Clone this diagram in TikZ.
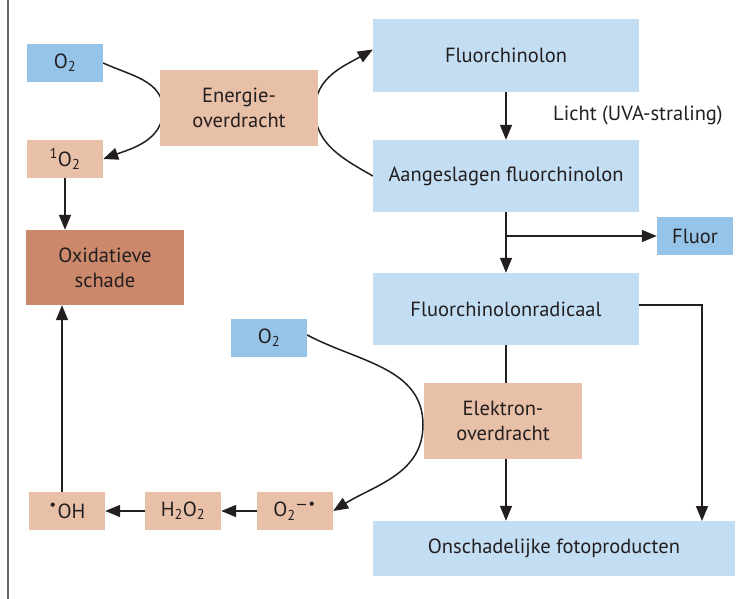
\documentclass[tikz,border=0pt]{standalone}
\usepackage{fontspec}
\setmainfont{PT Sans}
\newfontfamily\symfont{DejaVu Sans}
\usetikzlibrary{arrows.meta,backgrounds,calc}
\definecolor{lblue}{HTML}{C3DDF2}
\definecolor{mblue}{HTML}{96C4E9}
\definecolor{salm}{HTML}{E8BFA7}
\definecolor{dsalm}{HTML}{CC886B}
\definecolor{txt}{HTML}{231F20}
\definecolor{frame}{HTML}{6A6A6A}
\begin{document}
\begin{tikzpicture}[x=1pt,y=-1pt,
  font=\fontsize{20.5}{25}\selectfont, text=txt,
  bx/.style={inner sep=0pt, align=center, text=txt},
  small/.style={bx, minimum width=76pt, minimum height=38pt},
  big/.style={bx, minimum width=158pt, minimum height=76pt},
  wide/.style={bx, minimum width=266pt, minimum height=72pt},
  arr/.style={draw=txt, line width=1.5pt, -{Triangle[length=15pt,width=12pt]}},
  ln/.style={draw=txt, line width=1.5pt}]
\useasboundingbox (0,0) rectangle (748,599);
\draw[frame, line width=2pt] (7.5,0) -- (7.5,599);

\node[small, fill=mblue] (o2a) at (65,63) {O\textsubscript{2}};
\node[big, fill=salm] (energie) at (239,108) {Energie-\\overdracht};
\node[small, fill=salm] (so2) at (65,159) {\textsuperscript{1}O\textsubscript{2}};
\node[big, fill=dsalm, minimum height=75pt] (oxid) at (105,267.5) {Oxidatieve\\schade};
\node[wide, fill=lblue, minimum height=73pt] (fq) at (506,55.5) {Fluorchinolon};
\node[wide, fill=lblue] (aang) at (506,176) {Aangeslagen fluorchinolon};
\node[small, fill=mblue] (fluor) at (695,236) {Fluor};
\node[wide, fill=lblue] (rad) at (506,309) {Fluorchinolonradicaal};
\node[big, fill=salm] (elek) at (503,421) {Elektron-\\overdracht};
\node[bx, fill=lblue, minimum width=362pt, minimum height=55pt] (onsch) at (554,548.5) {Onschadelijke fotoproducten};
\node[small, fill=mblue] (o2m) at (269,338) {O\textsubscript{2}};
\node[small, fill=salm] (oh) at (67,511) {\textsuperscript{\symfont •}OH};
\node[small, fill=salm] (h2o2) at (183,511) {H\textsubscript{2}O\textsubscript{2}};
\node[small, fill=salm] (o2r) at (295,511) {O\textsubscript{2}\textsuperscript{\symfont −•}};

\node[anchor=west, inner sep=0pt] (licht) at (553,115) {Licht (UVA-straling)};

\coordinate (kink) at (702,521);

\begin{scope}[on background layer]
  \draw[arr] (o2a.east) to[out=-25,in=90] (163,110) to[out=-90,in=20] (so2.east);
  \draw[arr] ([yshift=0pt]aang.west) to[out=150,in=-90] (315,110) to[out=90,in=-150] ([yshift=6pt]fq.west);
  \draw[arr] ([yshift=3pt]o2m.east) to[out=-28,in=90] (423,425) to[out=-90,in=32] (o2r.east);
\end{scope}

\draw[arr] (fq) -- (aang);
\draw[arr] (aang) -- (rad);
\draw[arr] (aang.south |- fluor.west) -- (fluor.west);
\draw[ln] (rad.south) -- (rad.south |- elek.north);
\draw[arr] (elek.south -| rad.south) -- (onsch.north -| rad.south);
\draw[arr] ([yshift=4pt]rad.east) -| (kink);
\draw[arr] (so2) -- (so2 |- oxid.north);
\draw[arr] (o2r) -- (h2o2);
\draw[arr] (h2o2) -- (oh);
\draw[arr] (oh.north -| 62,0) -- (oxid.south -| 62,0);
\end{tikzpicture}
\end{document}
